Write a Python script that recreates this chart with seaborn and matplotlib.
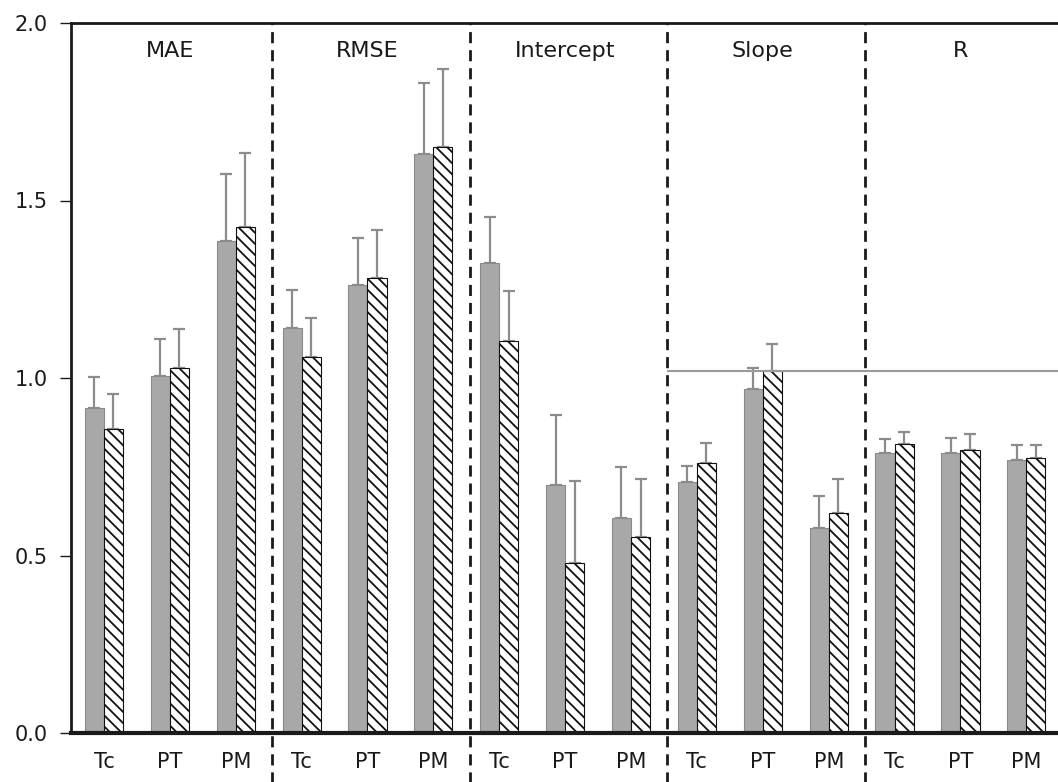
import pandas as pd
import seaborn as sns
import matplotlib.pyplot as plt

# values
metrics = ['MAE', 'RMSE', 'Intercept', 'Slope', 'R']
methods = ['Tc', 'PT', 'PM']
series = ['Series 1', 'Series 2']

gray_vals = [0.915, 1.006, 1.387, 1.141, 1.262, 1.631, 1.324, 0.698, 0.605,
             0.708, 0.969, 0.577, 0.789, 0.789, 0.769]
gray_err = [0.088, 0.104, 0.188, 0.107, 0.133, 0.200, 0.130, 0.198, 0.145,
            0.044, 0.059, 0.090, 0.038, 0.042, 0.042]
hatch_vals = [0.856, 1.029, 1.425, 1.059, 1.282, 1.651, 1.104, 0.480, 0.553,
              0.760, 1.020, 0.620, 0.813, 0.797, 0.774]
hatch_err = [0.099, 0.109, 0.209, 0.110, 0.135, 0.219, 0.141, 0.230, 0.162,
             0.057, 0.076, 0.095, 0.035, 0.045, 0.037]
ref_line = 1.02

groups = [f'{m}|{t}' for m in metrics for t in methods]
df = pd.DataFrame({
    'group': groups * 2,
    'series': [series[0]] * len(groups) + [series[1]] * len(groups),
    'value': gray_vals + hatch_vals,
})

sns.set_style('ticks')
plt.rcParams['font.family'] = ['DejaVu Sans']
plt.rcParams['hatch.linewidth'] = 1.3

fig = plt.figure(figsize=(10.58, 7.82), dpi=100)
ax = fig.add_axes([71 / 1058, 49 / 782, 1 - 71 / 1058, 710 / 782])

sns.barplot(data=df, x='group', y='value', hue='series', order=groups,
            hue_order=series, palette=['#a8a8a8', 'white'], saturation=1,
            width=0.58, gap=0, errorbar=None, legend=False, ax=ax)

for bar in ax.containers[0]:
    bar.set_edgecolor('#8a8a8a')
    bar.set_linewidth(0.8)
for bar in ax.containers[1]:
    bar.set_hatch('\\\\\\')
    bar.set_edgecolor('#111111')
    bar.set_linewidth(0.8)

# one-sided error bars
for cont, errs in zip(ax.containers[:2], [gray_err, hatch_err]):
    xs = [b.get_x() + b.get_width() / 2 for b in cont]
    ys = [b.get_height() for b in cont]
    ax.errorbar(xs, ys, yerr=[[0] * len(errs), errs], fmt='none',
                ecolor='#8c8c8c', elinewidth=1.6, capsize=4.5, capthick=1.6,
                zorder=0.5)

# panel dividers and titles
for i in range(1, len(metrics)):
    ax.axvline(i * 3 - 0.45, ymin=-0.07, ymax=1, clip_on=False,
               color='#1a1a1a', lw=2, ls=(0, (4, 2.5)))
for i, name in enumerate(metrics):
    ax.text(i * 3 + 1, 1.92, name, ha='center', va='center', fontsize=16,
            color='#1a1a1a')

ax.hlines(ref_line, 8.55, 14.48, color='#9a9a9a', lw=1.5)

ax.set_xlim(-0.5, 14.48)
ax.set_ylim(0, 2.0)
ax.set_yticks([0, 0.5, 1.0, 1.5, 2.0])
ax.set_yticklabels(['0.0', '0.5', '1.0', '1.5', '2.0'], fontsize=15)
ax.set_xticks(range(len(groups)))
ax.set_xticklabels(methods * len(metrics), fontsize=15)
ax.tick_params(axis='x', length=0, pad=14, colors='#1a1a1a')
ax.tick_params(axis='y', length=8, width=1, direction='out', pad=9,
               colors='#1a1a1a')
ax.set_xlabel('')
ax.set_ylabel('')

ax.spines['right'].set_visible(False)
ax.spines['left'].set_linewidth(2)
ax.spines['top'].set_linewidth(2)
ax.spines['bottom'].set_linewidth(3)
for s in ['left', 'top', 'bottom']:
    ax.spines[s].set_color('#1a1a1a')

fig.savefig('out.png', dpi=100)
